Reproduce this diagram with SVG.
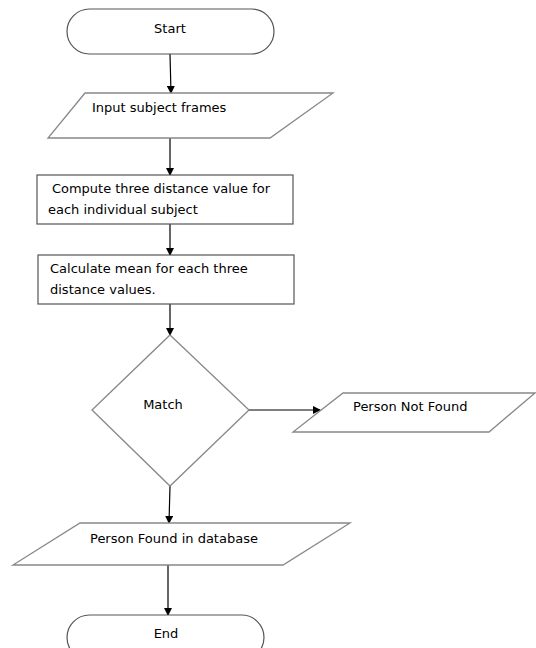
<svg xmlns="http://www.w3.org/2000/svg" width="536" height="648" viewBox="0 0 536 648">
<defs>
<marker id="arr" markerWidth="8" markerHeight="8" refX="7" refY="4" orient="auto" markerUnits="userSpaceOnUse">
<path d="M0,0 L8,4 L0,8 Z" fill="#000"/>
</marker>
<style>
.s{fill:#fff;stroke:#555;stroke-width:1.2}
.g{fill:#fff;stroke:#888;stroke-width:1.3}
.t{font-family:"DejaVu Sans",sans-serif;font-size:13px;fill:#000}
.c{fill:none;stroke:#000;stroke-width:1.2;marker-end:url(#arr)}
</style>
</defs>
<rect width="536" height="648" fill="#fff"/>
<g id="connectors">
<line class="c" x1="170" y1="54" x2="171" y2="93"/>
<line class="c" x1="170" y1="138" x2="170" y2="175"/>
<line class="c" x1="170" y1="224" x2="170" y2="255"/>
<line class="c" x1="170" y1="304" x2="170" y2="335"/>
<line class="c" x1="249" y1="410" x2="320" y2="410"/>
<line class="c" x1="170" y1="486" x2="169" y2="523"/>
<line class="c" x1="168" y1="565" x2="168" y2="615"/>
</g>
<g id="start">
<rect class="s" x="67" y="9" width="207" height="45" rx="22.5" ry="22.5"/>
<text class="t" x="170" y="33" text-anchor="middle">Start</text>
</g>
<g id="input">
<polygon class="g" points="85,93 333,93 270,138 48,138"/>
<text class="t" x="92" y="112">Input subject frames</text>
</g>
<g id="compute">
<rect class="s" x="37" y="175" width="256" height="49"/>
<text class="t" x="52" y="193" textLength="218" lengthAdjust="spacingAndGlyphs">Compute three distance value for</text>
<text class="t" x="48" y="214">each individual subject</text>
</g>
<g id="calculate">
<rect class="s" x="38" y="255" width="256" height="49"/>
<text class="t" x="50" y="273">Calculate mean for each three</text>
<text class="t" x="50" y="294">distance values.</text>
</g>
<g id="match">
<polygon class="g" points="170,335 249,410 170,486 92,410"/>
<text class="t" x="163" y="409" text-anchor="middle">Match</text>
</g>
<g id="notfound">
<polygon class="g" points="343,393 535,393 489,432 293,432"/>
<text class="t" x="353" y="411">Person Not Found</text>
</g>
<g id="found">
<polygon class="g" points="80,523 350,523 283,565 13,565"/>
<text class="t" x="90" y="543">Person Found in database</text>
</g>
<g id="end">
<rect class="s" x="67" y="615" width="197" height="45" rx="22.5" ry="22.5"/>
<text class="t" x="166" y="638" text-anchor="middle">End</text>
</g>
</svg>
